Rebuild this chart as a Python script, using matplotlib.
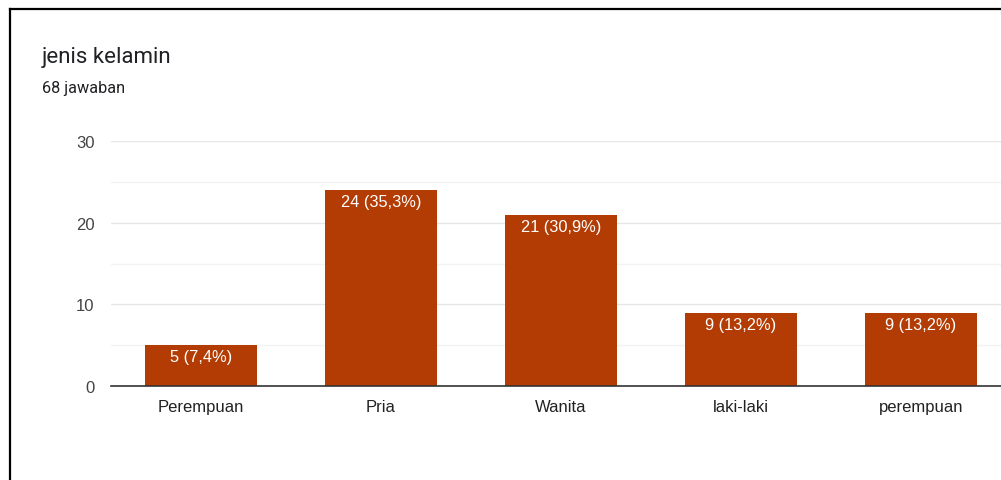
import matplotlib.pyplot as plt
from matplotlib.lines import Line2D

categories = ["Perempuan", "Pria", "Wanita", "laki-laki", "perempuan"]
counts = [5, 24, 21, 9, 9]
percent_labels = ["7,4%", "35,3%", "30,9%", "13,2%", "13,2%"]
yticks = [0, 10, 20, 30]

W, H = 1001, 481
fig = plt.figure(figsize=(W / 100, H / 100), dpi=100)
fig.patch.set_facecolor("white")

# card border (top and left edges only, the rest is cut off)
fig.add_artist(Line2D([10 / W, 10 / W], [0, 1 - 10 / H], color="black", lw=1.6))
fig.add_artist(Line2D([10 / W, 1], [1 - 10 / H, 1 - 10 / H], color="black", lw=1.6))

fig.text(42 / W, 1 - 58 / H, "jenis kelamin", family="Roboto", fontsize=16,
         color="#202124", va="center", ha="left")
fig.text(42 / W, 1 - 88 / H, "68 jawaban", family="Roboto", fontsize=11.7,
         color="#202124", va="center", ha="left")

ax = fig.add_axes([111 / W, (H - 387) / H, 900 / W, 245 / H])
x = range(len(categories))
ax.bar(x, counts, width=0.62, color="#b33c04", zorder=3)
ax.set_xlim(-0.5, 4.5)
ax.set_ylim(0, 30)

for s in ["top", "right", "left"]:
    ax.spines[s].set_visible(False)
ax.spines["bottom"].set_color("#333333")
ax.spines["bottom"].set_linewidth(1.2)
ax.spines["bottom"].set_zorder(4)

ax.set_yticks(yticks)
ax.set_yticks([5, 15, 25], minor=True)
ax.yaxis.grid(True, which="major", color="#e6e6e6", lw=1.0, zorder=0)
ax.yaxis.grid(True, which="minor", color="#f3f3f3", lw=1.0, zorder=0)
ax.tick_params(axis="y", which="both", length=0, pad=12, labelsize=12,
               labelcolor="#444444")
ax.set_xticks(list(x))
ax.set_xticklabels(categories)
ax.tick_params(axis="x", length=0, pad=9.5, labelsize=12, labelcolor="#222222")
for lbl in ax.get_xticklabels() + ax.get_yticklabels():
    lbl.set_family("Liberation Sans")

for i, (c, p) in enumerate(zip(counts, percent_labels)):
    ax.annotate(f"{c} ({p})", (i, c), xytext=(0, -8.5), textcoords="offset points",
                ha="center", va="center", color="white", fontsize=11.8,
                family="Liberation Sans", zorder=5)

fig.savefig("out.png", dpi=100, facecolor="white")
